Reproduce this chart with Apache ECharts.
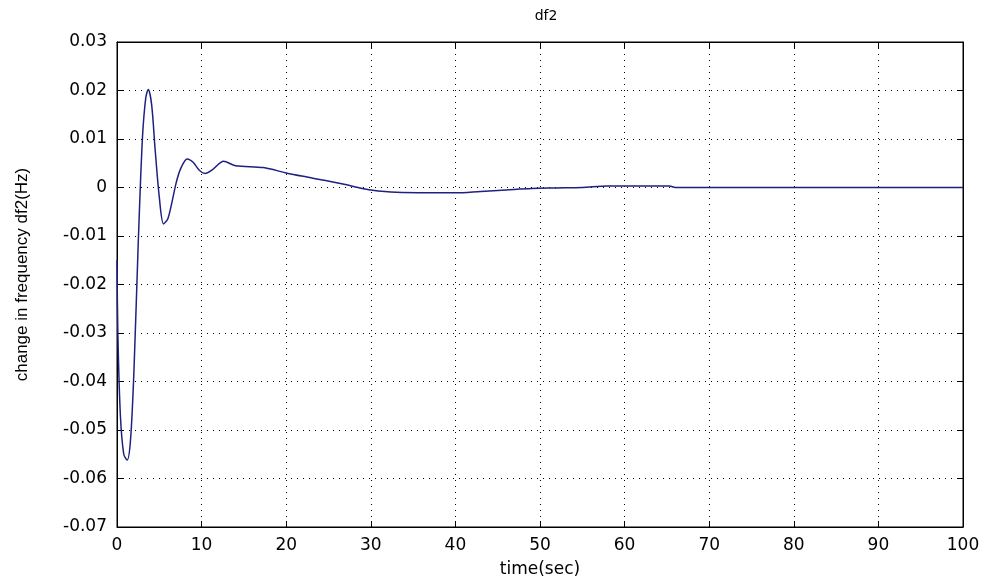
<!DOCTYPE html>
<html><head><meta charset="utf-8">
<script src="https://cdn.jsdelivr.net/npm/echarts@6/dist/echarts.min.js"></script>
<style>html,body{margin:0;padding:0;background:#fff}#c{width:986px;height:583px}</style>
</head><body><div id="c"></div>
<script>
const timeSec = [0, 0.1, 0.4, 0.8, 1.2, 1.6, 2.0, 2.5, 3.0, 3.4, 3.7, 4.1, 4.5, 5.0, 5.5, 6.0, 6.5, 7.0, 7.5, 8.3, 9.0, 9.7, 10.4, 11.3, 12.6, 14.0, 17.3, 20.0, 22.0, 24.5, 27.0, 28.5, 30.0, 33.0, 37.0, 40.0, 43.0, 46.0, 49.0, 52.0, 55.0, 58.0, 62.0, 65.3, 66.0, 75.0, 85.0, 100.0];
const df2 = [-0.015, -0.03, -0.047, -0.055, -0.0562, -0.052, -0.038, -0.012, 0.010, 0.0185, 0.0202, 0.017, 0.008, -0.002, -0.0075, -0.0065, -0.003, 0.001, 0.0038, 0.0059, 0.0052, 0.0036, 0.0029, 0.0037, 0.0054, 0.0045, 0.0041, 0.0030, 0.0023, 0.0015, 0.0006, 0.0, -0.0005, -0.001, -0.0011, -0.0011, -0.0008, -0.0005, -0.0002, -0.0001, 0.0, 0.0003, 0.0003, 0.0003, 0.0, 0.0, 0.0, 0.0];
const xTicks = [0, 10, 20, 30, 40, 50, 60, 70, 80, 90, 100];
const yTicks = [-0.07, -0.06, -0.05, -0.04, -0.03, -0.02, -0.01, 0, 0.01, 0.02, 0.03];

const wide = '"DejaVu Sans", Arial, sans-serif';
const font = '"Liberation Sans", Arial, sans-serif';
const chart = echarts.init(document.getElementById('c'));
const fmtY = v => { const r = Math.round(v * 100) / 100; return r === 0 ? '0' : r.toFixed(2); };
chart.setOption({
  backgroundColor: '#fff',
  animation: false,
  title: { text: 'df2', left: 541, top: 4, textAlign: 'center',
    textStyle: { fontFamily: wide, fontSize: 14, fontWeight: 'normal', color: '#000' } },
  grid: { left: 117, top: 42, width: 846, height: 485, show: true, borderColor: '#000', borderWidth: 1 },
  xAxis: [{
    type: 'value', min: xTicks[0], max: xTicks[xTicks.length - 1], interval: 10,
    name: 'time(sec)', nameLocation: 'middle', nameGap: 34,
    nameTextStyle: { fontFamily: wide, fontSize: 17, color: '#000' },
    axisLine: { show: true, onZero: false, lineStyle: { color: '#000' } },
    axisTick: { show: true, inside: true, length: 6, lineStyle: { color: '#000' } },
    axisLabel: { fontFamily: wide, fontSize: 17, color: '#000', margin: 10 },
    splitLine: { show: true, lineStyle: { color: '#000', type: [1, 5], width: 1 } }
  }, {
    type: 'value', position: 'top', min: 0, max: 100, interval: 10,
    axisLine: { show: true, onZero: false, lineStyle: { color: '#000' } },
    axisTick: { show: true, inside: true, length: 6, lineStyle: { color: '#000' } },
    axisLabel: { show: false }, splitLine: { show: false }
  }],
  yAxis: [{
    type: 'value', min: yTicks[0], max: yTicks[yTicks.length - 1], interval: 0.01,
    name: 'change in frequency df2(Hz)', nameLocation: 'middle', nameGap: 86, nameRotate: 90,
    nameTextStyle: { fontFamily: font, fontSize: 17, color: '#000', padding: [0, 0, 0, 20] },
    axisLine: { show: true, onZero: false, lineStyle: { color: '#000' } },
    axisTick: { show: true, inside: true, length: 6, lineStyle: { color: '#000' } },
    axisLabel: { fontFamily: wide, fontSize: 17, color: '#000', margin: 10, formatter: fmtY },
    splitLine: { show: true, lineStyle: { color: '#000', type: [1, 5], width: 1 } }
  }, {
    type: 'value', position: 'right', min: -0.07, max: 0.03, interval: 0.01,
    axisLine: { show: true, onZero: false, lineStyle: { color: '#000' } },
    axisTick: { show: true, inside: true, length: 6, lineStyle: { color: '#000' } },
    axisLabel: { show: false }, splitLine: { show: false }
  }],
  series: [{
    type: 'line', xAxisIndex: 0, yAxisIndex: 0, showSymbol: false, smooth: 0.3,
    lineStyle: { color: '#1f2080', width: 1.5 },
    data: timeSec.map((t, i) => [t, df2[i]])
  }]
});
</script></body></html>
